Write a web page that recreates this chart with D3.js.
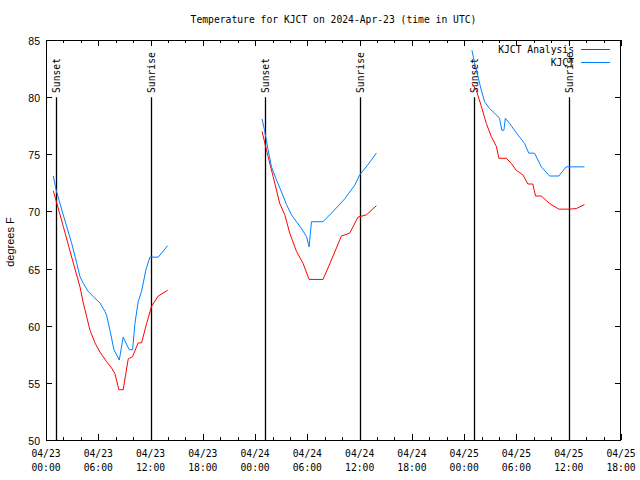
<!DOCTYPE html>
<html><head><meta charset="utf-8">
<script src="https://cdn.jsdelivr.net/npm/d3@7"></script>
<style>
body{margin:0;background:#fff;}
svg{display:block;}
text{font-family:"DejaVu Sans Mono",monospace;font-size:9.7px;fill:#000;}
.ylab{font-family:"Liberation Sans",Arial,sans-serif;font-size:10.5px;}
</style></head>
<body>
<script>
// ---- data (hours since 2024-04-23 00:00 UTC; null separates days) ----
const analysisHours = [0.84,1.98,3.13,3.90,4.28,5.05,5.62,6.19,6.96,7.53,7.91,8.37,8.86,9.44,9.94,10.58,10.97,11.55,12.12,12.88,13.96,
  null,
  24.80,25.11,25.49,26.07,26.83,27.41,27.98,28.75,29.51,30.20,31.80,32.76,33.91,34.86,35.81,36.78,37.92,
  null,
  48.89,49.39,49.97,50.54,51.11,51.69,51.99,52.83,53.41,53.98,54.74,55.31,55.88,56.19,56.85,57.80,58.86,60.09,60.86,61.81];
const analysisTemps = [71.8,68.7,65.5,63.4,62.0,59.6,58.5,57.7,56.85,56.3,55.8,54.4,54.4,57.1,57.3,58.5,58.5,60.2,61.7,62.6,63.1,
  null,
  77.0,76.0,74.8,73.05,70.7,69.7,68.1,66.5,65.45,64.05,64.05,65.75,67.85,68.1,69.5,69.7,70.5,
  null,
  81.2,80.6,79.2,77.7,76.55,75.7,74.65,74.65,74.2,73.6,73.2,72.4,72.4,71.35,71.35,70.7,70.2,70.2,70.25,70.6];
const obsHours = [0.84,1.15,1.98,2.95,3.52,3.90,4.28,4.85,5.42,6.19,6.77,6.96,7.34,7.80,8.41,8.86,9.55,9.94,10.21,10.58,10.97,11.47,11.93,12.88,13.96,
  null,
  24.80,25.11,25.49,25.88,26.46,27.03,27.60,28.18,28.75,29.32,29.90,30.20,30.47,31.80,32.95,34.29,35.44,36.01,36.96,37.92,
  null,
  48.89,49.20,49.58,49.97,50.34,50.92,51.49,52.06,52.33,52.56,52.72,53.21,54.16,54.93,55.42,56.08,56.85,57.80,58.86,59.71,61.81];
const obsTemps = [73.1,71.9,69.7,67.2,65.5,64.3,63.7,63.0,62.55,62.0,61.25,60.9,59.6,57.9,57.0,59.0,57.9,57.9,60.2,62.1,63.0,64.9,66.0,66.0,67.0,
  null,
  78.1,77.0,75.4,73.9,72.75,71.7,70.6,69.7,69.1,68.5,67.8,66.9,69.1,69.1,70.0,71.1,72.3,73.2,74.1,75.1,
  null,
  84.1,83.0,81.8,80.6,79.6,79.0,78.6,78.15,77.1,77.1,78.15,77.7,76.7,75.95,75.1,75.1,73.9,73.1,73.1,73.9,73.9];
const sunEvents = ["Sunset","Sunrise","Sunset","Sunrise","Sunset","Sunrise"];
const sunHours = [1.20,12.10,25.17,36.07,49.12,60.01];
const yTicks = [50,55,60,65,70,75,80,85];
const seriesNames = ["KJCT Analysis","KJCT"];
const seriesColors = ["#ff0000","#0080ff"];
const titleText = "Temperature for KJCT on 2024-Apr-23 (time in UTC)";
const yLabel = "degrees F";

// ---- layout ----
const W = 640, H = 480;
const m = {left:46, right:619, top:40, bottom:440};
const t0 = Date.UTC(2024,3,23,0,0);
const toDate = h => new Date(t0 + h*3600e3);

const x = d3.scaleUtc().domain([toDate(0), toDate(66)]).range([m.left, m.right+2]);
const y = d3.scaleLinear().domain([50,85]).range([m.bottom, m.top]);

const svg = d3.select("body").append("svg").attr("width",W).attr("height",H);
const x0 = m.left, x1 = m.right+2;

// title
svg.append("text").attr("x",(x0+x1)/2).attr("y",23).attr("text-anchor","middle").text(titleText);

// ticks
const tickG = svg.append("g").attr("stroke","#000").attr("stroke-width",1).attr("shape-rendering","crispEdges");
yTicks.forEach(v=>{
  const yy = Math.round(y(v))+0.5;
  tickG.append("line").attr("x1",x0).attr("x2",x0+6).attr("y1",yy).attr("y2",yy);
  tickG.append("line").attr("x1",x1-6).attr("x2",x1).attr("y1",yy).attr("y2",yy);
  svg.append("text").attr("class","ylab").attr("x",40).attr("y",yy+4).attr("text-anchor","end").text(v);
});
const minor = d3.utcHour.every(2).range(toDate(0), toDate(66.01));
minor.forEach(d=>{
  const xx = Math.round(x(d))+0.5;
  const major = d.getUTCHours()%6===0;
  const len = major?6:3;
  tickG.append("line").attr("x1",xx).attr("x2",xx).attr("y1",m.bottom).attr("y2",m.bottom-len);
  tickG.append("line").attr("x1",xx).attr("x2",xx).attr("y1",m.top).attr("y2",m.top+len);
});
const majors = d3.utcHour.every(6).range(toDate(0), toDate(66.01));
const fD = d3.utcFormat("%m/%d"), fT = d3.utcFormat("%H:%M");
majors.forEach(d=>{
  const xx = x(d);
  svg.append("text").attr("x",xx).attr("y",457).attr("text-anchor","middle").text(fD(d));
  svg.append("text").attr("x",xx).attr("y",471).attr("text-anchor","middle").text(fT(d));
});

// y label
svg.append("text").attr("class","ylab").attr("transform","translate(14,242) rotate(-90)")
  .attr("text-anchor","middle").style("font-size","11px").text(yLabel);

// sun lines
sunHours.forEach((h,i)=>{
  const xx = Math.round(x(toDate(h)))+0.5;
  svg.append("line").attr("x1",xx).attr("x2",xx).attr("y1",y(80)).attr("y2",m.bottom)
    .attr("stroke","#000").attr("stroke-width",1.3);
  svg.append("text").attr("transform",`translate(${xx+3.5},93) rotate(-90)`).text(sunEvents[i]);
});

// data lines
function mk(hours, temps){ return hours.map((h,i)=>({h, t:temps[i]})); }
const line = d3.line().defined(d=>d.h!==null && d.t!==null)
  .x(d=>x(toDate(d.h))).y(d=>y(d.t));
[[analysisHours,analysisTemps],[obsHours,obsTemps]].forEach((s,i)=>{
  svg.append("path").datum(mk(s[0],s[1])).attr("d",line).attr("fill","none")
    .attr("stroke",seriesColors[i]).attr("stroke-width",1);
});

// legend
seriesNames.forEach((n,i)=>{
  const yy = 49 + i*13;
  svg.append("text").attr("x",574).attr("y",yy+4).attr("text-anchor","end").text(n);
  svg.append("line").attr("x1",581).attr("x2",610).attr("y1",yy+0.5).attr("y2",yy+0.5)
    .attr("stroke",seriesColors[i]).attr("stroke-width",1);
});

// frame
svg.append("rect").attr("x",x0+0.5).attr("y",m.top+0.5).attr("width",x1-x0-1).attr("height",m.bottom-m.top)
  .attr("fill","none").attr("stroke","#000").attr("stroke-width",1).attr("shape-rendering","crispEdges");
</script>
</body></html>
